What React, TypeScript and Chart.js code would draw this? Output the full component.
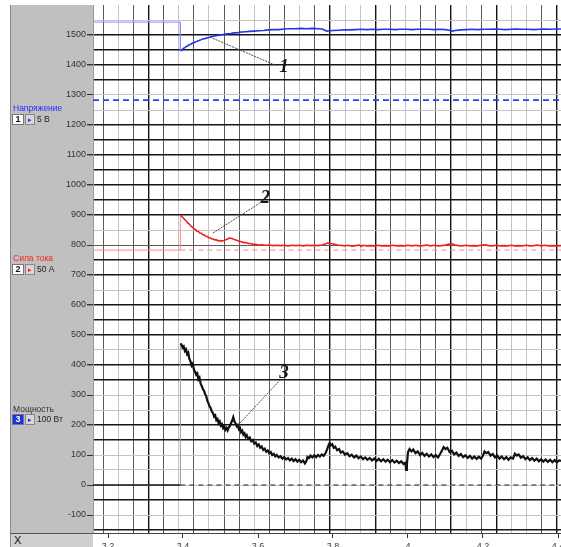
import React, { useEffect, useRef } from "react";
import { Chart, registerables } from "chart.js";

Chart.register(...registerables);

// ---- axis ranges & ticks ----
const xMin = 3.16;
const xMax = 4.408;
const yMin = -160;
const yMax = 1600;
const xLabelTicks = [3.2, 3.4, 3.6, 3.8, 4.0, 4.2, 4.4];
const xGridStart = 3.1867;
const xGridStep = 0.04035;
const xGridCount = 31;
const yGridTicks = [-150, -100, -50, 0, 50, 100, 150, 200, 250, 300, 350, 400, 450, 500, 550, 600, 650, 700, 750, 800, 850, 900, 950, 1000, 1050, 1100, 1150, 1200, 1250, 1300, 1350, 1400, 1450, 1500, 1550];
const yLabelMin = -100;
const yLabelMax = 1500;

// grid shade pattern (scan look): B black, D dark, L light
const xGridShade = ["D","L","D","B","D","L","D","L","D","D","L","D","D","L","D","B","L","L","B","D","L","D","D","B","L","D","B","L","L","D","B"];
const yGridShadeLight = [1550, 1300, 1250, 850, 650, 450, 300, 250, 100, 50, 0, -100];
const yGridShadeDark = [800];

// ---- switching instant and reference levels ----
const switchTime = 3.393;
const voltageRef = 1283;
const currentRef = 783;
const powerRef = 0;

// ---- channel 1: voltage (Напряжение) ----
const voltageBefore: [number, number][] = [[3.16, 1543], [3.393, 1543], [3.393, 1447]];
const voltageAfter: [number, number][] = [
  [3.393,1447],[3.397,1450],[3.401,1455],[3.405,1458],[3.409,1462],[3.413,1464],[3.417,1468],[3.421,1469],[3.425,1473],[3.429,1474],
  [3.433,1477],[3.438,1479],[3.443,1482],[3.448,1484],[3.453,1487],[3.458,1488],[3.463,1490],[3.469,1492],[3.475,1494],[3.481,1496],
  [3.488,1498],[3.495,1499],[3.502,1501],[3.510,1502],[3.518,1504],[3.527,1505],[3.536,1507],[3.546,1508],[3.556,1510],[3.567,1511],
  [3.578,1512],[3.590,1513],[3.602,1514],[3.615,1515],[3.628,1517],[3.642,1518],[3.656,1518],[3.670,1520],[3.685,1521],[3.700,1521],
  [3.715,1522],[3.730,1521],[3.745,1522],[3.760,1521],[3.772,1520],[3.778,1516],[3.784,1513],[3.790,1514],[3.800,1515],[3.815,1516],
  [3.830,1517],[3.845,1517],[3.860,1518],[3.875,1519],[3.890,1518],[3.905,1519],[3.920,1518],[3.935,1519],[3.950,1519],[3.965,1518],
  [3.980,1519],[3.995,1519],[4.010,1518],[4.025,1519],[4.040,1519],[4.055,1519],[4.070,1518],[4.085,1519],[4.100,1518],[4.110,1516],
  [4.118,1513],[4.126,1515],[4.140,1517],[4.155,1518],[4.170,1519],[4.185,1518],[4.200,1519],[4.215,1519],[4.230,1520],[4.245,1519],
  [4.260,1518],[4.275,1519],[4.290,1520],[4.305,1519],[4.320,1519],[4.335,1518],[4.350,1519],[4.365,1520],[4.380,1519],[4.395,1520],[4.408,1520]
];

// ---- channel 2: current (Сила тока) ----
const currentBefore: [number, number][] = [[3.16, 783], [3.393, 783], [3.393, 900]];
const currentAfter: [number, number][] = [
  [3.393,900],[3.397,895],[3.401,890],[3.405,884],[3.409,880],[3.413,873],[3.417,870],[3.421,863],[3.425,860],[3.429,854],
  [3.433,852],[3.437,846],[3.441,845],[3.445,840],[3.449,839],[3.453,834],[3.457,833],[3.461,829],[3.465,828],[3.469,824],
  [3.473,824],[3.477,820],[3.481,820],[3.485,817],[3.489,817],[3.493,814],[3.497,815],[3.501,813],[3.505,814],[3.510,815],
  [3.515,818],[3.520,821],[3.525,823],[3.530,822],[3.535,819],[3.540,817],[3.545,815],[3.550,812],[3.556,811],[3.562,808],
  [3.568,808],[3.574,805],[3.580,805],[3.587,802],[3.594,802],[3.601,800],[3.610,801],[3.620,799],[3.630,800],[3.640,798],
  [3.650,799],[3.660,798],[3.670,799],[3.680,797],[3.690,799],[3.700,798],[3.710,799],[3.720,797],[3.730,799],[3.740,798],
  [3.750,799],[3.760,798],[3.770,800],[3.780,803],[3.786,807],[3.792,806],[3.798,804],[3.805,802],[3.812,800],[3.820,799],
  [3.830,797],[3.840,799],[3.850,796],[3.860,798],[3.870,800],[3.875,795],[3.880,799],[3.890,797],[3.900,798],[3.910,797],
  [3.920,799],[3.930,797],[3.940,798],[3.950,797],[3.960,799],[3.970,797],[3.980,798],[3.990,797],[4.000,799],[4.010,797],
  [4.020,799],[4.030,797],[4.040,798],[4.050,800],[4.060,797],[4.070,799],[4.080,797],[4.090,798],[4.100,800],[4.110,803],
  [4.118,804],[4.125,800],[4.135,798],[4.145,797],[4.155,799],[4.165,797],[4.175,798],[4.185,797],[4.195,799],[4.205,801],
  [4.215,798],[4.225,797],[4.235,799],[4.245,797],[4.255,798],[4.265,797],[4.275,799],[4.285,797],[4.295,798],[4.305,797],
  [4.315,799],[4.325,797],[4.335,798],[4.345,800],[4.355,797],[4.365,799],[4.375,797],[4.385,798],[4.395,797],[4.408,798]
];

// ---- channel 3: power (Мощность) ----
const powerBefore: [number, number][] = [[3.16, 0], [3.393, 0]];
const powerJump: [number, number][] = [[3.393, 0], [3.393, 472]];
const powerAfter: [number, number][] = [
  [3.393,472],[3.396,468],[3.399,458],[3.402,462],[3.405,447],[3.408,452],[3.411,436],[3.414,441],[3.417,420],[3.420,412],
  [3.423,398],[3.426,404],[3.429,385],[3.432,378],[3.435,368],[3.438,372],[3.441,352],[3.444,358],[3.447,338],[3.450,330],
  [3.453,320],[3.456,314],[3.459,302],[3.462,296],[3.465,280],[3.468,272],[3.471,262],[3.474,256],[3.477,244],[3.480,240],
  [3.483,228],[3.486,232],[3.489,216],[3.492,220],[3.495,206],[3.498,212],[3.501,198],[3.504,203],[3.507,190],[3.510,196],
  [3.513,184],[3.516,190],[3.519,182],[3.522,192],[3.525,196],[3.528,206],[3.531,214],[3.534,226],[3.537,212],[3.540,206],
  [3.543,196],[3.546,200],[3.549,186],[3.552,190],[3.555,176],[3.558,181],[3.561,168],[3.564,172],[3.567,160],[3.570,166],
  [3.574,154],[3.578,158],[3.582,146],[3.586,150],[3.590,138],[3.594,142],[3.598,130],[3.602,135],[3.606,124],[3.610,128],
  [3.614,117],[3.618,121],[3.622,111],[3.626,115],[3.630,105],[3.634,110],[3.638,100],[3.642,104],[3.646,95],[3.650,100],
  [3.655,92],[3.660,96],[3.665,88],[3.670,93],[3.675,85],[3.680,90],[3.685,82],[3.690,88],[3.695,80],[3.700,86],
  [3.705,78],[3.710,84],[3.715,76],[3.720,82],[3.725,72],[3.729,80],[3.732,94],[3.736,90],[3.740,98],[3.745,92],
  [3.750,99],[3.755,93],[3.760,100],[3.765,95],[3.770,102],[3.775,97],[3.780,106],[3.784,118],[3.788,132],[3.791,140],
  [3.794,132],[3.798,136],[3.802,124],[3.806,128],[3.811,116],[3.816,120],[3.821,108],[3.826,112],[3.832,101],[3.838,106],
  [3.844,96],[3.850,101],[3.856,92],[3.862,98],[3.868,89],[3.874,95],[3.880,86],[3.886,92],[3.892,84],[3.898,90],
  [3.904,82],[3.910,88],[3.916,80],[3.922,87],[3.928,79],[3.934,86],[3.940,78],[3.946,84],[3.952,76],[3.958,83],
  [3.964,75],[3.970,81],[3.976,73],[3.982,79],[3.988,70],[3.993,74],[3.995,50],[3.997,68],[4.000,110],[4.004,120],
  [4.009,112],[4.014,118],[4.020,106],[4.026,112],[4.032,100],[4.038,107],[4.044,97],[4.050,104],[4.056,95],[4.062,102],
  [4.068,93],[4.074,100],[4.080,92],[4.086,104],[4.091,116],[4.095,126],[4.100,120],[4.105,124],[4.111,110],[4.117,114],
  [4.123,102],[4.129,108],[4.135,97],[4.141,103],[4.147,93],[4.153,99],[4.159,90],[4.165,97],[4.171,88],[4.177,95],
  [4.183,87],[4.189,94],[4.195,88],[4.200,98],[4.204,112],[4.209,106],[4.214,110],[4.220,98],[4.226,103],[4.232,92],
  [4.238,98],[4.244,88],[4.250,95],[4.256,86],[4.262,93],[4.268,84],[4.274,92],[4.280,88],[4.285,104],[4.290,98],
  [4.295,102],[4.301,91],[4.307,96],[4.313,86],[4.319,92],[4.325,83],[4.331,90],[4.337,81],[4.343,88],[4.349,79],
  [4.355,86],[4.361,78],[4.367,85],[4.373,77],[4.379,84],[4.385,76],[4.391,83],[4.397,76],[4.403,82],[4.408,80]
];

// ---- annotations (curve numbers and leader lines) ----
const annotationLabels = ["1", "2", "3"];
const annotationX = [3.669, 3.619, 3.669];
const annotationY = [1393, 957, 373];
const leaderStartX = [3.472, 3.48, 3.547];
const leaderStartY = [1493, 840, 200];
const leaderEndX = [3.645, 3.605, 3.659];
const leaderEndY = [1400, 940, 350];

const xy = (arr: [number, number][]) => arr.map(([x, y]) => ({ x, y }));

const shadeColor = (s: string) => (s === "B" ? "#151515" : s === "D" ? "#5a5a5a" : "#c4c4c4");

const annotationPlugin = {
  id: "curveNumbers",
  afterDatasetsDraw(chart: any) {
    const { ctx } = chart;
    const xs = chart.scales.x;
    const ys = chart.scales.y;
    ctx.save();
    ctx.font = 'italic bold 19px "Liberation Serif", "DejaVu Serif", serif';
    ctx.fillStyle = "#151515";
    ctx.textAlign = "center";
    ctx.textBaseline = "middle";
    annotationLabels.forEach((t, i) => {
      ctx.fillText(t, xs.getPixelForValue(annotationX[i]), ys.getPixelForValue(annotationY[i]));
    });
    ctx.restore();
  },
};

export default function App() {
  const canvasRef = useRef<HTMLCanvasElement | null>(null);

  useEffect(() => {
    const canvas = canvasRef.current;
    if (!canvas) return;
    const leaderSets = annotationLabels.map((_, i) => ({
      data: [
        { x: leaderStartX[i], y: leaderStartY[i] },
        { x: leaderEndX[i], y: leaderEndY[i] },
      ],
      borderColor: "#4a4a4a",
      borderWidth: 1,
      borderDash: [2, 1],
      pointRadius: 0,
    }));
    const chart = new Chart(canvas, {
      type: "line",
      data: {
        datasets: [
          ...leaderSets,
          { data: xy(powerAfter), borderColor: "#111", borderWidth: 2.2, pointRadius: 0 },
          { data: xy(powerBefore), borderColor: "#111", borderWidth: 1.4, pointRadius: 0 },
          { data: xy(powerJump), borderColor: "#9a9a9a", borderWidth: 1, pointRadius: 0 },
          { data: [{ x: switchTime, y: powerRef }, { x: xMax, y: powerRef }], borderColor: "#222", borderWidth: 1.2, borderDash: [5, 4], pointRadius: 0 },
          { data: xy(currentAfter), borderColor: "#f02020", borderWidth: 1.6, pointRadius: 0 },
          { data: xy(currentBefore), borderColor: "#ff8888", borderWidth: 1, pointRadius: 0 },
          { data: [{ x: switchTime, y: currentRef }, { x: xMax, y: currentRef }], borderColor: "#ff9a9a", borderWidth: 1.2, borderDash: [5, 4], pointRadius: 0 },
          { data: xy(voltageAfter), borderColor: "#2035f0", borderWidth: 1.6, pointRadius: 0 },
          { data: xy(voltageBefore), borderColor: "#8d8dff", borderWidth: 1, pointRadius: 0 },
          { data: [{ x: xMin, y: voltageRef }, { x: xMax, y: voltageRef }], borderColor: "#2a3cff", borderWidth: 1.6, borderDash: [6, 4], pointRadius: 0 },
        ],
      },
      options: {
        animation: false,
        responsive: false,
        devicePixelRatio: 1,
        layout: { autoPadding: false, padding: { left: 10, top: 5, right: 0, bottom: 0 } },
        plugins: { legend: { display: false }, tooltip: { enabled: false } },
        elements: { line: { tension: 0 } },
        scales: {
          x: {
            type: "linear",
            position: "bottom",
            min: xMin,
            max: xMax,
            afterBuildTicks: (s: any) => {
              s.ticks = xLabelTicks.map((v) => ({ value: v }));
            },
            afterFit: (s: any) => {
              s.height = 14;
              s.paddingLeft = 0;
              s.paddingRight = 0;
            },
            ticks: {
              autoSkip: false,
              maxRotation: 0,
              padding: 3,
              color: "#3a3a3a",
              font: { family: '"Liberation Sans", Arial, sans-serif', size: 9 },
              callback: (v: any) => String(Math.round(Number(v) * 10) / 10),
            },
            grid: { drawOnChartArea: false, tickLength: 5, tickColor: "#333" },
            border: { display: true, color: "#444" },
          },
          xg: {
            type: "linear",
            position: "bottom",
            min: xMin,
            max: xMax,
            afterBuildTicks: (s: any) => {
              const t = [];
              for (let k = 0; k < xGridCount; k++) t.push({ value: xGridStart + k * xGridStep });
              s.ticks = t;
            },
            afterFit: (s: any) => {
              s.height = 0;
              s.paddingLeft = 0;
              s.paddingRight = 0;
            },
            ticks: { display: false },
            grid: {
              drawTicks: false,
              lineWidth: (c: any) => (xGridShade[c.index] === "B" ? 1.4 : 1),
              color: (c: any) => shadeColor(xGridShade[c.index] || "D"),
            },
            border: { display: false },
          },
          y: {
            type: "linear",
            min: yMin,
            max: yMax,
            afterBuildTicks: (s: any) => {
              s.ticks = yGridTicks.map((v) => ({ value: v }));
            },
            afterFit: (s: any) => {
              s.width = 83;
              s.paddingTop = 0;
              s.paddingBottom = 0;
            },
            ticks: {
              autoSkip: false,
              padding: 1,
              color: "#333",
              font: { family: '"Liberation Sans", Arial, sans-serif', size: 9 },
              callback: (v: any) => {
                const n = Number(v);
                return n % 100 === 0 && n >= yLabelMin && n <= yLabelMax ? String(n) : "";
              },
            },
            grid: {
              tickLength: 6,
              lineWidth: (c: any) => {
                const v = c.tick ? c.tick.value : 0;
                return yGridShadeLight.includes(v) || yGridShadeDark.includes(v) ? 1 : 1.4;
              },
              color: (c: any) => {
                const v = c.tick ? c.tick.value : 0;
                if (yGridShadeLight.includes(v)) return shadeColor("L");
                if (yGridShadeDark.includes(v)) return shadeColor("D");
                return shadeColor("B");
              },
              tickColor: (c: any) => {
                const v = c.tick ? c.tick.value : 1;
                return v % 100 === 0 && v >= yLabelMin && v <= yLabelMax ? "#333" : "rgba(0,0,0,0)";
              },
            },
            border: { display: true, color: "#999" },
          },
        },
      } as any,
      plugins: [annotationPlugin],
    });
    return () => chart.destroy();
  }, []);

  const small: React.CSSProperties = {
    position: "absolute",
    fontFamily: '"Liberation Sans", Arial, sans-serif',
    fontSize: 8.5,
    lineHeight: "9px",
    whiteSpace: "nowrap",
  };
  const box = (top: number, num: string, selected: boolean, unit: string, arrow: string) => (
    <>
      <div
        style={{
          ...small,
          left: 12,
          top,
          width: 12,
          height: 11,
          background: selected ? "#1533e6" : "#fff",
          color: selected ? "#fff" : "#111",
          border: "1px solid #777",
          boxSizing: "border-box",
          fontSize: 9,
          fontWeight: "bold",
          lineHeight: "9px",
          textAlign: "center",
        }}
      >
        {num}
      </div>
      <div
        style={{
          ...small,
          left: 25,
          top,
          width: 10,
          height: 11,
          background: "#d8d8d8",
          border: "1px solid #888",
          boxSizing: "border-box",
          color: arrow,
          fontSize: 7,
          lineHeight: "9px",
          textAlign: "center",
        }}
      >
        ▸
      </div>
      <div style={{ ...small, left: 37, top: top + 1, color: "#222" }}>{unit}</div>
    </>
  );

  return (
    <div style={{ position: "absolute", left: 0, top: 0, width: 561, height: 547, background: "#fff", overflow: "hidden" }}>
      <div style={{ position: "absolute", left: 10, top: 5, width: 83, height: 528, background: "#c0c0c0", borderLeft: "1px solid #8a8a8a", boxSizing: "border-box" }} />
      <div
        style={{
          position: "absolute",
          left: 10,
          top: 533,
          width: 83,
          height: 14,
          background: "#cfcfcf",
          borderTop: "1px solid #555",
          borderLeft: "1px solid #8a8a8a",
          boxSizing: "border-box",
          fontFamily: '"Liberation Sans", Arial, sans-serif',
          fontSize: 11,
          lineHeight: "12px",
          paddingLeft: 3,
          color: "#111",
        }}
      >
        X
      </div>
      <canvas ref={canvasRef} width={561} height={547} style={{ position: "absolute", left: 0, top: 0, width: 561, height: 547 }} />
      <div style={{ ...small, left: 13, top: 104, color: "#2a2aff" }}>Напряжение</div>
      {box(114, "1", false, "5 В", "#2a2aff")}
      <div style={{ ...small, left: 13, top: 254, color: "#ff2020" }}>Сила тока</div>
      {box(264, "2", false, "50 А", "#ff2020")}
      <div style={{ ...small, left: 13, top: 405, color: "#333" }}>Мощность</div>
      {box(414, "3", true, "100 Вт", "#2a2aff")}
    </div>
  );
}
